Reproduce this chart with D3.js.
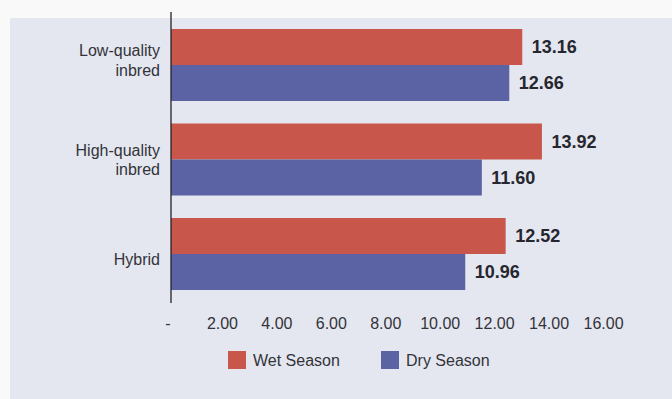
<!DOCTYPE html>
<html><head><meta charset="utf-8">
<script src="https://cdn.jsdelivr.net/npm/d3@7"></script>
<style>
html,body{margin:0;padding:0;background:#f9f9f9;}
svg{display:block;font-family:"Liberation Sans",Arial,sans-serif;}
</style></head>
<body><svg id="c" width="672" height="399"></svg>
<script>
const categories = ["Low-quality\ninbred", "High-quality\ninbred", "Hybrid"];
const seriesNames = ["Wet Season", "Dry Season"];
const wetValues = [13.16, 13.92, 12.52];
const dryValues = [12.66, 11.60, 10.96];
const tickValues = [0, 2, 4, 6, 8, 10, 12, 14, 16];
const tickLabels = ["-", "2.00", "4.00", "6.00", "8.00", "10.00", "12.00", "14.00", "16.00"];
const colors = ["#c8564b", "#5b63a5"];

const svg = d3.select("#c");
svg.append("rect").attr("x", 10).attr("y", 18).attr("width", 662).attr("height", 381).attr("fill", "#e4e7f0");

const x = d3.scaleLinear().domain([-0.4, 16]).range([171, 595.8]);
const x0 = x.range()[0];
const xt = d3.scaleLinear().domain([0, 16]).range([167.5, 603]);
const y = d3.scaleBand().domain(categories).range([17.75, 301.25]).paddingInner(0.238).paddingOuter(0.119);
const ySub = d3.scaleBand().domain(seriesNames).range([0, y.bandwidth()]);
const yLabel = d3.scalePoint().domain(categories).range([60.5, 259.5]);

const data = categories.map((c, i) => ({cat: c, vals: [wetValues[i], dryValues[i]]}));

const g = svg.append("g");
data.forEach(d => {
  d.vals.forEach((v, j) => {
    const yy = y(d.cat) + ySub(seriesNames[j]);
    g.append("rect").attr("x", x0).attr("y", yy).attr("width", x(v) - x0).attr("height", ySub.bandwidth()).attr("fill", colors[j]);
    g.append("text").attr("x", x(v) + 9.5).attr("y", yy + ySub.bandwidth() / 2).attr("dy", "0.35em")
      .attr("font-size", 18).attr("font-weight", "bold").attr("fill", "#26262e").text(v.toFixed(2));
  });
});

// category labels
categories.forEach(c => {
  const lines = c.split("\n");
  const cy = yLabel(c);
  const t = svg.append("text").attr("text-anchor", "end").attr("font-size", 16).attr("fill", "#333338");
  lines.forEach((l, k) => {
    t.append("tspan").attr("x", 160).attr("y", cy + (k - (lines.length - 1) / 2) * 19.3).attr("dy", "0.35em").text(l);
  });
});

// axis line
svg.append("line").attr("x1", x0).attr("x2", x0).attr("y1", 12).attr("y2", 303).attr("stroke", "#222").attr("stroke-width", 1.3);

// x tick labels
const xAxis = d3.axisBottom(xt).tickValues(tickValues).tickSize(0).tickFormat((d, i) => tickLabels[i]);
const ax = svg.append("g").call(xAxis);
ax.select(".domain").remove();
ax.selectAll("text").attr("y", 323).attr("dy", "0.35em").attr("font-size", 16).attr("fill", "#333338").attr("font-family", "Liberation Sans, Arial, sans-serif");

// legend
const legX = [228, 381];
seriesNames.forEach((s, j) => {
  svg.append("rect").attr("x", legX[j]).attr("y", 351).attr("width", 18).attr("height", 18).attr("fill", colors[j]);
  svg.append("text").attr("x", legX[j] + 25).attr("y", 360).attr("dy", "0.35em").attr("font-size", 16).attr("fill", "#333338").text(s);
});
</script></body></html>
